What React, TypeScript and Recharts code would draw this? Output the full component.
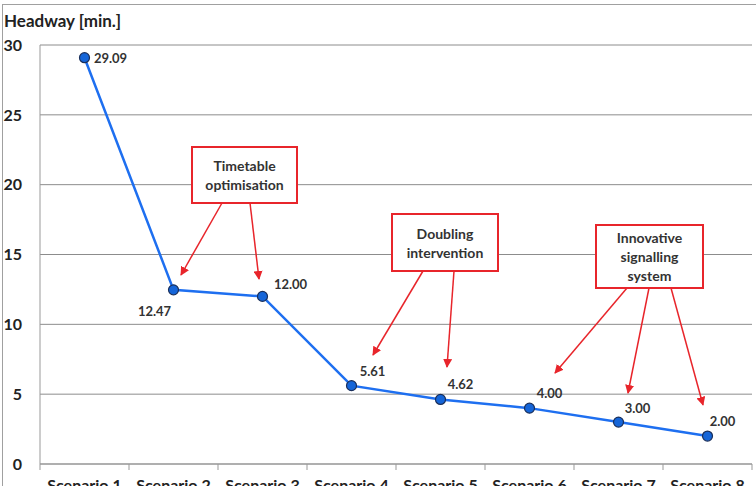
import { CartesianGrid, LabelList, Line, LineChart, XAxis, YAxis } from "recharts";

const scenarios = [
  "Scenario 1",
  "Scenario 2",
  "Scenario 3",
  "Scenario 4",
  "Scenario 5",
  "Scenario 6",
  "Scenario 7",
  "Scenario 8",
];
const headway = [29.09, 12.47, 12.0, 5.61, 4.62, 4.0, 3.0, 2.0];
const yTicks = [0, 5, 10, 15, 20, 25, 30];

// where each value label sits relative to its point
const labelOffsets = [
  [26, 0],
  [-19, 21],
  [28, -12],
  [21, -15],
  [20, -15],
  [20, -15],
  [19, -14],
  [15, -15],
];

const data = scenarios.map((s, i) => ({ scenario: s, headway: headway[i] }));

const FONT = "Lato, 'Open Sans', sans-serif";
const RED = "#e8252b";
const PLOT_LEFT = 40;
const PLOT_RIGHT = 752;
const BAND = (PLOT_RIGHT - PLOT_LEFT) / scenarios.length;

const renderXTick = (props: any) => {
  const { x, y, payload, index } = props;
  const axisY = y - 16;
  return (
    <g>
      <line x1={x - BAND / 2} x2={x - BAND / 2} y1={axisY} y2={axisY + 6} stroke="#999" />
      {index === scenarios.length - 1 && (
        <line x1={x + BAND / 2} x2={x + BAND / 2} y1={axisY} y2={axisY + 6} stroke="#999" />
      )}
      <text
        x={x}
        y={y}
        dy="0.71em"
        textAnchor="middle"
        fill="#222"
        fontSize={16}
        fontWeight="bold"
        fontFamily={FONT}
      >
        {payload.value}
      </text>
    </g>
  );
};

const renderValueLabel = (props: any) => {
  const { x, y, value, index } = props;
  const [dx, dy] = labelOffsets[index] || [0, -12];
  return (
    <text
      x={x + dx}
      y={y + dy}
      textAnchor="middle"
      dominantBaseline="central"
      fill="#333"
      fontSize={13}
      fontWeight="bold"
      fontFamily={FONT}
    >
      {Number(value).toFixed(2)}
    </text>
  );
};

type Note = {
  box: [number, number, number, number];
  lines: string[];
  arrows: [number, number, number, number][];
};

const notes: Note[] = [
  {
    box: [192, 147, 105, 56],
    lines: ["Timetable", "optimisation"],
    arrows: [
      [222, 203, 181, 275],
      [250, 203, 259, 279],
    ],
  },
  {
    box: [392, 214, 106, 57],
    lines: ["Doubling", "intervention"],
    arrows: [
      [423, 271, 373, 355],
      [454, 271, 447, 367],
    ],
  },
  {
    box: [596, 225, 107, 63],
    lines: ["Innovative", "signalling", "system"],
    arrows: [
      [627, 288, 555, 373],
      [649, 288, 628, 393],
      [671, 288, 703, 405],
    ],
  },
];

const Annotations = () => (
  <svg
    width={756}
    height={486}
    style={{ position: "absolute", left: 0, top: 0, pointerEvents: "none" }}
  >
    <defs>
      <marker
        id="arrowHead"
        viewBox="0 0 10 10"
        refX="9"
        refY="5"
        markerWidth="6"
        markerHeight="6"
        orient="auto-start-reverse"
      >
        <path d="M0,0 L10,5 L0,10 z" fill={RED} />
      </marker>
    </defs>
    {notes.map((n, i) => {
      const [bx, by, bw, bh] = n.box;
      const lineH = 19;
      const startY = by + bh / 2 - ((n.lines.length - 1) * lineH) / 2;
      return (
        <g key={i}>
          {n.arrows.map((a, j) => (
            <line
              key={j}
              x1={a[0]}
              y1={a[1]}
              x2={a[2]}
              y2={a[3]}
              stroke={RED}
              strokeWidth={1.5}
              markerEnd="url(#arrowHead)"
            />
          ))}
          <rect x={bx} y={by} width={bw} height={bh} fill="#fff" stroke={RED} strokeWidth={2} />
          {n.lines.map((t, k) => (
            <text
              key={k}
              x={bx + bw / 2}
              y={startY + k * lineH}
              textAnchor="middle"
              dominantBaseline="central"
              fill="#333"
              fontSize={14}
              fontWeight="bold"
              fontFamily={FONT}
            >
              {t}
            </text>
          ))}
        </g>
      );
    })}
  </svg>
);

export default function App() {
  return (
    <div
      style={{
        position: "absolute",
        left: 0,
        top: 0,
        width: 756,
        height: 486,
        overflow: "hidden",
        background: "#fff",
        fontFamily: FONT,
      }}
    >
      <div
        style={{
          position: "absolute",
          left: 2,
          top: 4,
          width: 800,
          height: 600,
          border: "1px solid #a0a0a0",
        }}
      />
      <div
        style={{
          position: "absolute",
          left: 4,
          top: 11,
          fontSize: 17,
          fontWeight: "bold",
          color: "#222",
          lineHeight: "20px",
        }}
      >
        Headway [min.]
      </div>
      <div style={{ position: "absolute", left: 0, top: 0 }}>
        <LineChart
          width={756}
          height={486}
          data={data}
          margin={{ top: 45, right: 4, bottom: 0, left: 0 }}
        >
          <CartesianGrid vertical={false} stroke="#8c8c8c" />
          <XAxis
            dataKey="scenario"
            height={22}
            interval={0}
            padding={{ left: BAND / 2, right: BAND / 2 }}
            tickLine={false}
            tickSize={6}
            tickMargin={10}
            axisLine={{ stroke: "#999" }}
            tick={renderXTick}
          />
          <YAxis
            width={40}
            domain={[0, 30]}
            ticks={yTicks}
            tickLine={false}
            tickSize={0}
            tickMargin={18}
            axisLine={{ stroke: "#999" }}
            tick={{ fill: "#222", fontSize: 16, fontWeight: "bold", fontFamily: FONT }}
          />
          <Line
            dataKey="headway"
            stroke="#1e6ff0"
            strokeWidth={2.5}
            dot={{ r: 5, fill: "#1565d8", stroke: "#1a2f5a", strokeWidth: 1.2 }}
            isAnimationActive={false}
          >
            <LabelList dataKey="headway" content={renderValueLabel} />
          </Line>
        </LineChart>
      </div>
      <Annotations />
    </div>
  );
}
